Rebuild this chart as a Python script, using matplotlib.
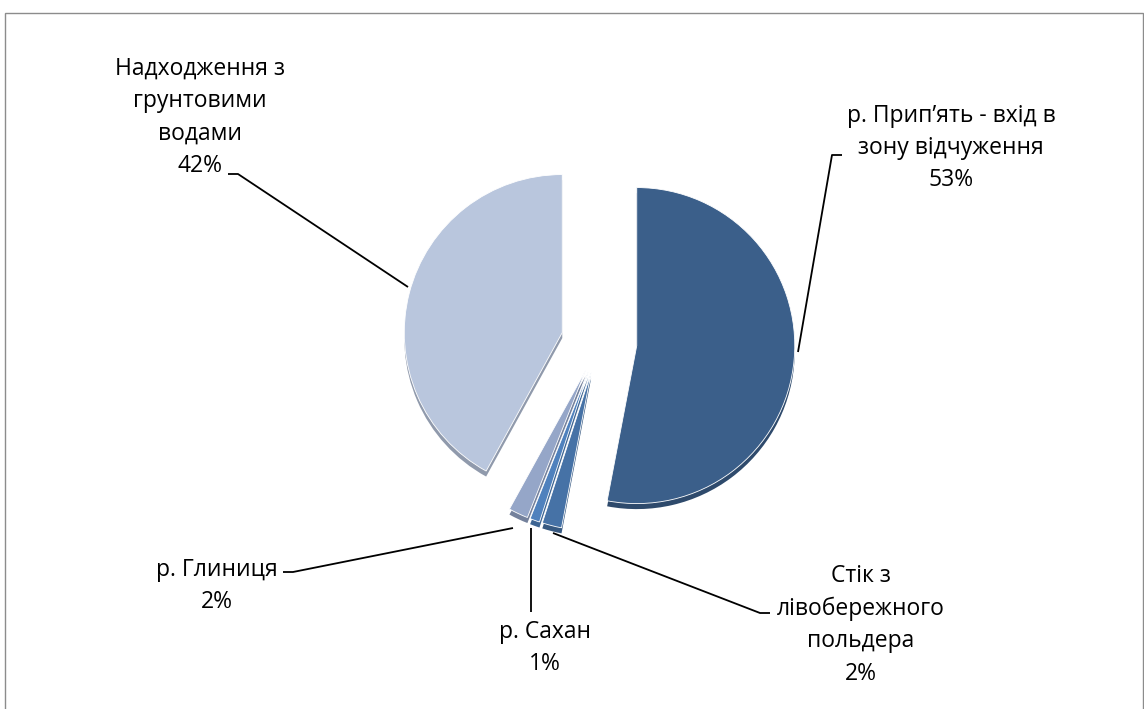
import matplotlib
matplotlib.use("Agg")
import matplotlib.pyplot as plt
import numpy as np
from matplotlib.colors import to_rgb

plt.rcParams['font.family'] = ['Open Sans', 'DejaVu Sans']

# ---- data ----
categories = ["р. Прип’ять - вхід в\nзону відчуження",
              "Стік з\nлівобережного\nпольдера",
              "р. Сахан",
              "р. Глиниця",
              "Надходження з\nгрунтовими\nводами"]
values = [53, 2, 1, 2, 42]
pct_labels = ["53%", "2%", "1%", "2%", "42%"]
colors = ["#3B5F8A", "#4672A6", "#4F81BD", "#95A6C8", "#B9C6DD"]
explode = [0.24, 0.2, 0.2, 0.2, 0.24]

W, H = 1144, 709
fig = plt.figure(figsize=(W / 100, H / 100), dpi=100)

# overlay axes in pixel coordinates (y downwards)
bg = fig.add_axes([0, 0, 1, 1])
bg.set_xlim(0, W)
bg.set_ylim(H, 0)
bg.axis('off')

# chart border
bg.plot([4.5, 4.5, 1142.5, 1142.5], [H + 5, 12.5, 12.5, H + 5],
        color="#8C8C8C", lw=1.0, solid_joinstyle='miter')

# pie axes
cx, cy, R = 599, 342, 158
lim = 1.4
S = 2 * lim * R
pax = fig.add_axes([(cx - S / 2) / W, (H - cy - S / 2) / H, S / W, S / H])
pax.set_xlim(-lim, lim)
pax.set_ylim(-lim, lim)
pax.set_aspect('equal')
pax.axis('off')

def darker(c, f=0.78):
    r, g, b = to_rgb(c)
    return (r * f, g * f, b * f)

# side (depth) of 3D pie
pax.pie(values, colors=[darker(c) for c in colors], explode=explode,
        startangle=90, counterclock=False, radius=1.0, center=(0, -0.035),
        wedgeprops=dict(linewidth=0))
# top face
pax.pie(values, colors=colors, explode=explode,
        startangle=90, counterclock=False, radius=1.0, center=(0, 0),
        wedgeprops=dict(linewidth=0.6, edgecolor='white'))
pax.set_xlim(-lim, lim)
pax.set_ylim(-lim, lim)

# labels (pixel positions) and leader lines
label_pos = [(951, 148), (861, 625), (545, 648), (217, 586), (200, 117)]
leaders = [
    [(842, 155), (832, 155), (798, 352)],
    [(770, 613), (760, 613), (553, 533)],
    [(531, 612), (531, 528)],
    [(283, 572), (293, 572), (513, 528)],
    [(228, 174), (238, 174), (408, 287)],
]
for cat, pct, (tx, ty), pts in zip(categories, pct_labels, label_pos, leaders):
    bg.text(tx, ty, cat + "\n" + pct, ha='center', va='center',
            fontsize=16.5, color='black', linespacing=1.47)
    xs, ys = zip(*pts)
    bg.plot(xs, ys, color='black', lw=1.3, solid_capstyle='butt')

fig.savefig("out.png", dpi=100)
